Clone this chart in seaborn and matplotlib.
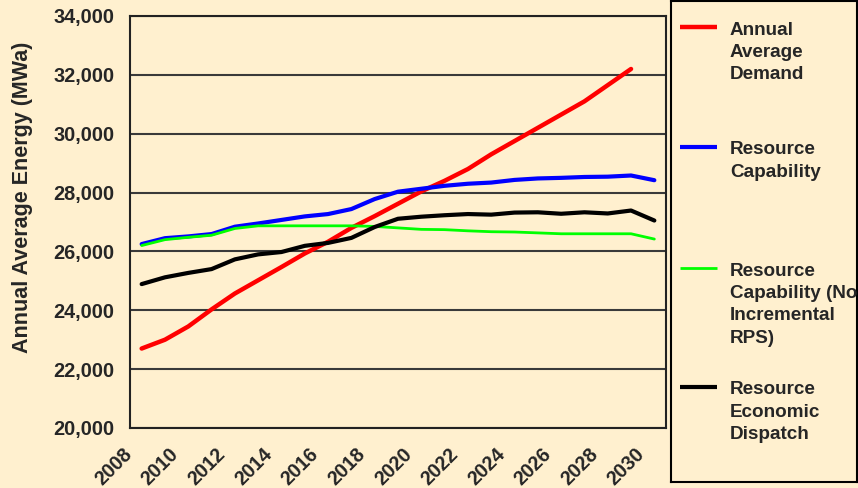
import numpy as np
import pandas as pd
import matplotlib.pyplot as plt
import matplotlib.transforms as mtransforms
import seaborn as sns

# year the value starts (plotted at mid-year)
years = list(range(2008, 2031))

demand = [22700, 23000, 23450, 24030, 24570, 25020, 25470, 25930, 26330, 26800,
          27200, 27620, 28040, 28400, 28800, 29300, 29750, 30200, 30650, 31100,
          31650, 32200, np.nan]
capability = [26250, 26450, 26510, 26590, 26840, 26950, 27070, 27190, 27270, 27440,
              27780, 28030, 28130, 28230, 28300, 28340, 28430, 28480, 28500, 28530,
              28540, 28580, 28420]
capability_no_rps = [26200, 26400, 26480, 26550, 26780, 26870, 26870, 26870, 26870, 26870,
                     26850, 26800, 26750, 26740, 26700, 26670, 26660, 26630, 26600, 26600,
                     26600, 26600, 26420]
economic_dispatch = [24890, 25120, 25270, 25400, 25730, 25900, 25980, 26190, 26290, 26460,
                     26830, 27110, 27180, 27230, 27270, 27250, 27320, 27330, 27280, 27330,
                     27290, 27390, 27050]

labels = ["Annual\nAverage\nDemand",
          "Resource\nCapability",
          "Resource\nCapability (No\nIncremental\nRPS)",
          "Resource\nEconomic\nDispatch"]
colors = ["#ff0000", "#0000ff", "#00ff00", "#000000"]
widths = [3.2, 3.0, 2.0, 3.0]

bg = "#fff0cf"

sns.set_style("white")
plt.rcParams['font.family'] = ['Liberation Sans', 'DejaVu Sans']
plt.rcParams['font.weight'] = 'bold'

df = pd.DataFrame({"year": years, "demand": demand, "cap": capability,
                   "cap_no_rps": capability_no_rps, "dispatch": economic_dispatch})
df["x"] = df["year"] + 0.5

fig = plt.figure(figsize=(8.58, 4.88), dpi=100, facecolor=bg)
ax = fig.add_axes([130/858, 60/488, 536/858, 412/488])
ax.set_facecolor(bg)

cols = ["demand", "cap", "cap_no_rps", "dispatch"]
for c, col, lw in zip(cols, colors, widths):
    sns.lineplot(data=df, x="x", y=c, color=col, linewidth=lw, ax=ax, legend=False)

ax.set_xlim(2008, 2031)
ax.set_ylim(20000, 34000)
ax.set_yticks(range(20000, 34001, 2000))
ax.set_yticklabels([f"{v:,}" for v in range(20000, 34001, 2000)])
xt = list(range(2008, 2032))
ax.set_xticks(xt)
ax.set_xticklabels([str(y) if y % 2 == 0 and y <= 2030 else "" for y in xt],
                   rotation=45, ha='right', va='baseline', rotation_mode='anchor')
ax.tick_params(axis='y', direction='out', length=6, width=1.2, color='#333333',
               labelsize=14.3, pad=5)
ax.tick_params(axis='x', direction='out', length=5, width=1.2, color='#333333',
               labelsize=14.2, pad=14.5)
shift = mtransforms.ScaledTranslation(0.03, 0, fig.dpi_scale_trans)
for lab in ax.get_xticklabels():
    lab.set_transform(lab.get_transform() + shift)
for lab in ax.get_xticklabels() + ax.get_yticklabels():
    lab.set_fontweight('bold')
ax.yaxis.grid(True, color='#3a3a3a', linewidth=1.5)
ax.set_axisbelow(True)
for s in ax.spines.values():
    s.set_color('#222222')
    s.set_linewidth(1.5)
ax.set_xlabel("")
ax.set_ylabel("Annual Average Energy (MWa)", fontsize=15.5, fontweight='bold')
ax.yaxis.set_label_coords((33 - 130) / 536, (428 - 197) / 412)

# legend box
lax = fig.add_axes([671/858, 6/488, 186/858, 481/488])
lax.set_facecolor(bg)
lax.set_xlim(0, 186)
lax.set_ylim(481, 0)
lax.set_xticks([])
lax.set_yticks([])
for s in lax.spines.values():
    s.set_color('black')
    s.set_linewidth(1.5)
line_y = [26, 146, 267, 386]
for lab, col, lw, ly in zip(labels, colors, widths, line_y):
    lax.plot([9, 46], [ly, ly], color=col, linewidth=lw, solid_capstyle='butt')
    lax.text(59, ly - 5.5, lab, fontsize=13.6, fontweight='bold', va='top', ha='left',
             linespacing=1.42, clip_on=False)

fig.savefig("out.png", dpi=100, facecolor=bg)
